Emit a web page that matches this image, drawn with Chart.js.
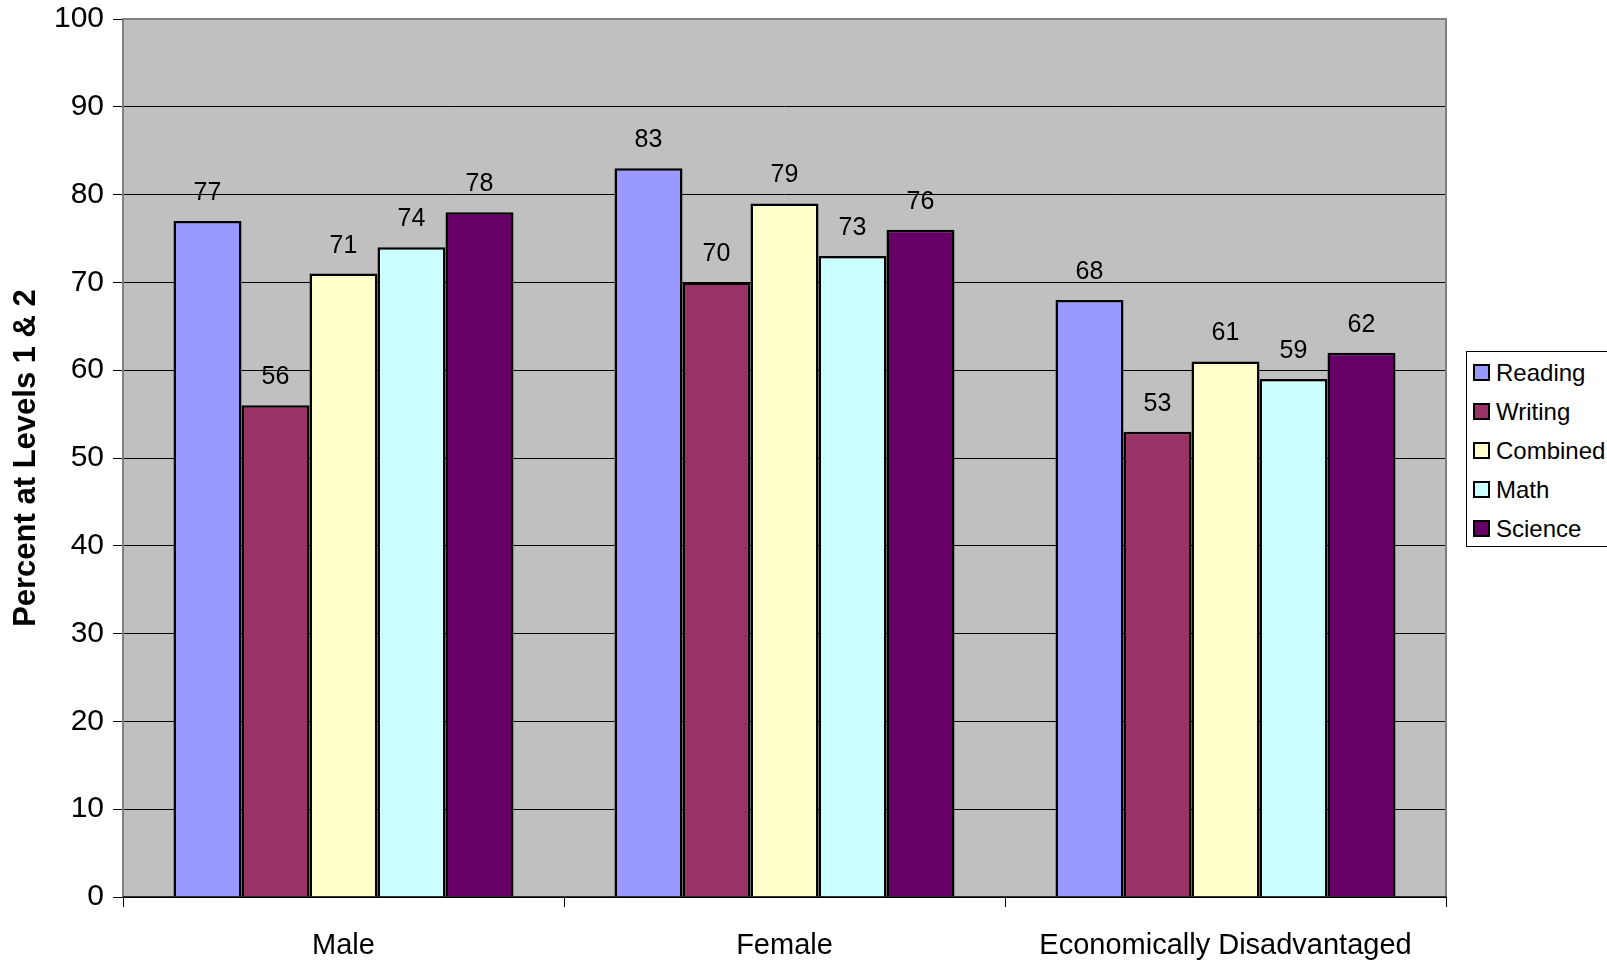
<!DOCTYPE html>
<html>
<head>
<meta charset="utf-8">
<script src="https://cdn.jsdelivr.net/npm/chart.js@4.4.1/dist/chart.umd.min.js"></script>
<style>
  html, body { margin: 0; padding: 0; background: #fff; }
  #wrap { position: relative; width: 1607px; height: 967px; }
  #legend {
    position: absolute; left: 1466px; top: 351px; width: 150px; height: 196px;
    border: 1px solid #000; background: #fff; box-sizing: border-box;
    font-family: "Liberation Sans", Arial, sans-serif; font-size: 24px; color: #000;
    padding-top: 1px;
  }
  .item { display: flex; align-items: center; height: 39px; padding-left: 6px; }
  .sw { width: 13px; height: 13px; border: 2px solid #000; margin-right: 6px; }
</style>
</head>
<body>
<div id="wrap">
  <canvas id="chart" width="1607" height="967"></canvas>
  <div id="legend"></div>
</div>
<script>
const categories = ['Male', 'Female', 'Economically Disadvantaged'];
const seriesNames = ['Reading', 'Writing', 'Combined', 'Math', 'Science'];
const reading = [77, 83, 68];
const writing = [56, 70, 53];
const combined = [71, 79, 61];
const math = [74, 73, 59];
const science = [78, 76, 62];
const colors = ['#9999FF', '#993366', '#FFFFCC', '#CCFFFF', '#660066'];
const yTicks = [0, 10, 20, 30, 40, 50, 60, 70, 80, 90, 100];

const font = '"Liberation Sans", Arial, sans-serif';
const allValues = [reading, writing, combined, math, science];

const plotBg = {
  id: 'plotBg',
  beforeDraw(chart) {
    const { ctx, chartArea: a } = chart;
    ctx.save();
    ctx.fillStyle = '#C0C0C0';
    ctx.fillRect(a.left, a.top, a.right - a.left, a.bottom - a.top);
    ctx.restore();
  },
  afterDatasetsDraw(chart) {
    const { ctx, chartArea: a } = chart;
    ctx.save();
    ctx.strokeStyle = '#808080';
    ctx.lineWidth = 2;
    ctx.beginPath();
    ctx.moveTo(a.left, a.bottom);
    ctx.lineTo(a.left, a.top);
    ctx.lineTo(a.right, a.top);
    ctx.lineTo(a.right, a.bottom);
    ctx.stroke();
    ctx.strokeStyle = '#000';
    ctx.lineWidth = 1.5;
    ctx.beginPath();
    ctx.moveTo(a.left, a.bottom);
    ctx.lineTo(a.right, a.bottom);
    ctx.stroke();
    // value labels
    ctx.fillStyle = '#000';
    ctx.font = '25px ' + font;
    ctx.textAlign = 'center';
    ctx.textBaseline = 'middle';
    chart.data.datasets.forEach((ds, i) => {
      chart.getDatasetMeta(i).data.forEach((bar, j) => {
        ctx.fillText(String(ds.data[j]), bar.x, bar.y - 28);
      });
    });
    ctx.restore();
  }
};

new Chart(document.getElementById('chart'), {
  type: 'bar',
  data: {
    labels: categories,
    datasets: seriesNames.map((name, i) => ({
      label: name,
      data: allValues[i],
      backgroundColor: colors[i],
      borderColor: '#000',
      borderWidth: 2.5,
      barPercentage: 1,
      categoryPercentage: 0.771,
    })),
  },
  options: {
    responsive: false,
    animation: false,
    layout: { padding: { top: 19, right: 161, left: 0, bottom: 0 } },
    plugins: { legend: { display: false }, tooltip: { enabled: false } },
    scales: {
      x: {
        grid: { offset: true, drawOnChartArea: false, color: '#000', tickLength: 10, lineWidth: 1 },
        border: { display: false },
        ticks: { color: '#000', font: { family: font, size: 29 }, padding: 22 },
        afterFit(scale) { scale.height = 70; scale.paddingLeft = 0; scale.paddingRight = 0; },
      },
      y: {
        min: 0, max: 100,
        afterBuildTicks(scale) { scale.ticks = yTicks.map(v => ({ value: v })); },
        grid: { color: '#000', lineWidth: 1, tickLength: 10 },
        border: { display: false },
        ticks: { color: '#000', font: { family: font, size: 30 }, padding: 9 },
        title: {
          display: true, text: 'Percent at Levels 1 & 2', color: '#000',
          font: { family: font, size: 31, weight: 'bold' }, padding: { top: 8, bottom: 0 },
        },
        afterFit(scale) { scale.width = 123; scale.paddingTop = 0; scale.paddingBottom = 0; },
      },
    },
  },
  plugins: [plotBg],
});

const legend = document.getElementById('legend');
seriesNames.forEach((name, i) => {
  const row = document.createElement('div');
  row.className = 'item';
  const sw = document.createElement('span');
  sw.className = 'sw';
  sw.style.background = colors[i];
  row.appendChild(sw);
  row.appendChild(document.createTextNode(name));
  legend.appendChild(row);
});
</script>
</body>
</html>
